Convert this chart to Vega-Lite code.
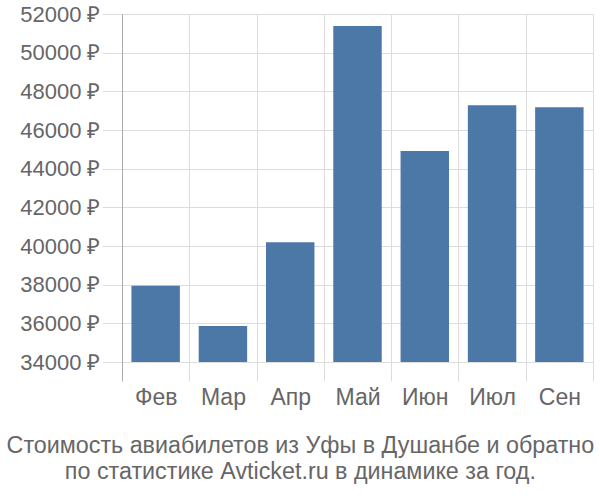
{
  "$schema": "https://vega.github.io/schema/vega-lite/v6.json",
  "autosize": {"type": "none"},
  "width": 471,
  "height": 367,
  "padding": {"left": 122, "top": 14, "right": 7, "bottom": 119},
  "background": "white",
  "config": {
    "font": "Liberation Sans",
    "view": {"stroke": null}
  },
  "title": {
    "text": ["Стоимость авиабилетов из Уфы в Душанбе и обратно", "по статистике Avticket.ru в динамике за год."],
    "orient": "bottom",
    "anchor": "middle",
    "frame": "bounds",
    "fontSize": 23.3,
    "fontWeight": "normal",
    "color": "#666666",
    "lineHeight": 26,
    "offset": 26,
    "dx": -6
  },
  "data": {
    "values": [
      {"month": "Фев", "price": 37950},
      {"month": "Мар", "price": 35870},
      {"month": "Апр", "price": 40200},
      {"month": "Май", "price": 51380},
      {"month": "Июн", "price": 44920},
      {"month": "Июл", "price": 47280},
      {"month": "Сен", "price": 47180}
    ]
  },
  "mark": {"type": "bar", "color": "#4c78a8", "width": {"band": 0.72}},
  "encoding": {
    "x": {
      "field": "month",
      "type": "nominal",
      "sort": null,
      "scale": {"paddingInner": 0, "paddingOuter": 0},
      "axis": {
        "title": null,
        "labelAngle": 0,
        "labelFontSize": 23,
        "labelColor": "#666666",
        "labelPadding": 5,
        "ticks": false,
        "domain": false,
        "grid": true,
        "gridColor": "#dddddd",
        "tickBand": "extent"
      }
    },
    "y": {
      "field": "price",
      "type": "quantitative",
      "scale": {"domain": [33020, 52000], "nice": false, "zero": false},
      "axis": {
        "title": null,
        "values": [34000, 36000, 38000, 40000, 42000, 44000, 46000, 48000, 50000, 52000],
        "labelExpr": "datum.value + ' ₽'",
        "labelFontSize": 22,
        "labelColor": "#666666",
        "labelPadding": 2,
        "tickSize": 20,
        "tickColor": "#dddddd",
        "gridColor": "#dddddd",
        "domain": true,
        "domainColor": "#aaaaaa"
      }
    },
    "y2": {"datum": 34000}
  }
}
